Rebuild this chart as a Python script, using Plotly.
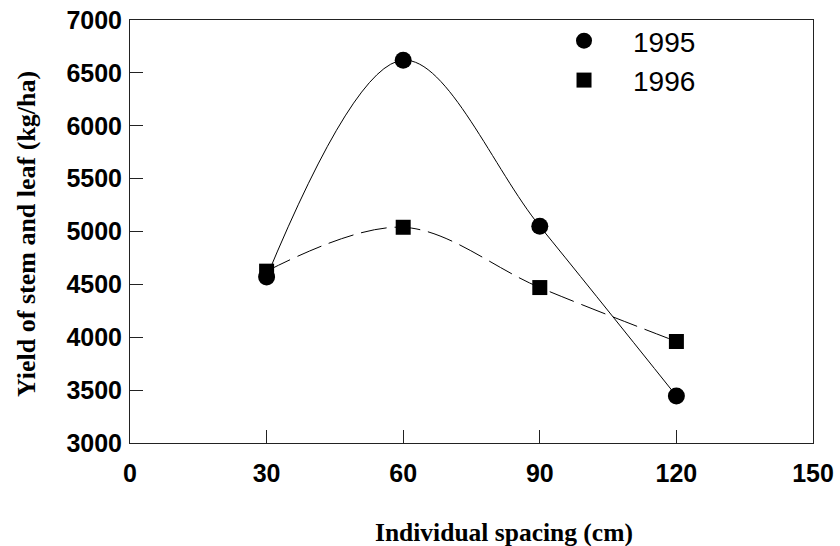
import plotly.graph_objects as go

spacing = [30, 60, 90, 120]
yield_1995 = [4570, 6620, 5050, 3445]
yield_1996 = [4625, 5040, 4470, 3960]
x_ticks = [0, 30, 60, 90, 120, 150]
y_ticks = [3000, 3500, 4000, 4500, 5000, 5500, 6000, 6500, 7000]

fig = go.Figure()

# smooth curves
fig.add_trace(go.Scatter(x=spacing, y=yield_1995, mode="lines",
                         line=dict(color="black", width=1, shape="spline", smoothing=1.0),
                         showlegend=False, hoverinfo="skip"))
fig.add_trace(go.Scatter(x=spacing, y=yield_1996, mode="lines",
                         line=dict(color="black", width=1, shape="spline", smoothing=1.0,
                                   dash="26px,8px"),
                         showlegend=False, hoverinfo="skip"))
# markers
fig.add_trace(go.Scatter(x=spacing, y=yield_1995, mode="markers", name="1995",
                         marker=dict(symbol="circle", size=17, color="black")))
fig.add_trace(go.Scatter(x=spacing, y=yield_1996, mode="markers", name="1996",
                         marker=dict(symbol="square", size=15, color="black")))

axis_common = dict(showline=True, linecolor="#222", linewidth=1, mirror=True,
                   ticks="inside", ticklen=13, tickcolor="#222", tickwidth=1,
                   showgrid=False, zeroline=False, automargin=False,
                   tickfont=dict(family="Liberation Sans, Arial", size=25, color="black",
                                 weight="bold"))

fig.update_xaxes(range=[0, 150], tickvals=x_ticks, ticklabelstandoff=8, **axis_common)
fig.update_yaxes(range=[3000, 7000], tickvals=y_ticks, ticklabelstandoff=2, **axis_common)

fig.update_layout(
    width=840, height=546,
    margin=dict(l=130, r=27, t=20, b=103, autoexpand=False),
    paper_bgcolor="white", plot_bgcolor="white",
    showlegend=True,
    legend=dict(x=0.593, y=1.0095, xanchor="left", yanchor="top",
                font=dict(family="Liberation Sans, Arial", size=28, color="black"),
                itemsizing="trace", itemwidth=88, bgcolor="rgba(0,0,0,0)",
                tracegroupgap=0),
    annotations=[
        dict(text="Individual spacing (cm)", xref="paper", yref="paper",
             x=(504 - 130) / 683, y=-(532 - 443) / 423, xanchor="center", yanchor="middle",
             showarrow=False,
             font=dict(family="Liberation Serif, Times New Roman", size=25.5, color="black",
                       weight="bold")),
        dict(text="Yield of stem and leaf (kg/ha)", xref="paper", yref="paper",
             x=-(130 - 26) / 683, y=(443 - 234) / 423, xanchor="center", yanchor="middle",
             textangle=-90, showarrow=False,
             font=dict(family="Liberation Serif, Times New Roman", size=26, color="black",
                       weight="bold")),
    ],
)

fig.write_html("out.html")
